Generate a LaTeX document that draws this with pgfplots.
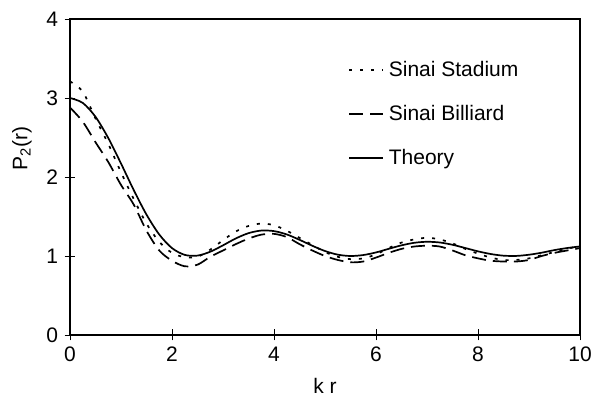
\documentclass[border=0pt]{standalone}
\usepackage{fontspec}
\setmainfont{Liberation Sans}
\usepackage{pgfplots}
\pgfplotsset{compat=1.18}
\begin{document}
\begin{tikzpicture}
\useasboundingbox (0,0) rectangle (595pt,409pt);
\begin{axis}[
 at={(70pt,74pt)}, anchor=south west,
 width=510pt, height=316pt, scale only axis,
 xmin=0,xmax=10,ymin=0,ymax=4,
 xtick={0,2,4,6,8,10}, ytick={0,1,2,3,4},
 tick pos=left,
 tick align=center, major tick length=11pt,
 tick style={line width=0.9pt, black},
 axis line style={line width=1.7pt},
 /pgf/number format/assume math mode=true,
 ticklabel style={font=\fontsize{21}{24}\selectfont},
 xticklabel style={yshift=-3pt},
 yticklabel style={xshift=-3pt},
 xlabel={k r}, ylabel={P\textsubscript{2}(r)},
 label style={font=\fontsize{21}{24}\selectfont},
 xlabel style={at={(axis description cs:0.5,-0.16)},anchor=center},
 ylabel style={at={(axis description cs:-0.094,0.59)},anchor=center},
 legend style={draw=none, fill=none, at={(axis description cs:0.545,0.873)}, anchor=north west,
   font=\fontsize{21}{24}\selectfont, row sep=23.5pt, inner sep=0pt},
 legend cell align=left,
 legend image code/.code={\draw[#1] (0pt,0pt) -- (34pt,0pt); \path (37pt,0pt);},
]
\addplot[black, line width=1.7pt, dash pattern=on 3pt off 8pt, smooth] coordinates {
(0,3.21) (0.25,3.08) (0.5,2.74) (0.75,2.42) (1.0,2.06) (1.25,1.72) (1.5,1.41) (1.75,1.18)
(2.0,1.04) (2.25,0.985) (2.5,0.99) (2.75,1.08) (3.0,1.20) (3.25,1.31) (3.5,1.38) (3.75,1.41)
(4.0,1.39) (4.25,1.32) (4.5,1.23) (4.75,1.14) (5.0,1.05) (5.25,0.99) (5.5,0.96) (5.75,0.97)
(6.0,1.02) (6.25,1.10) (6.5,1.17) (6.75,1.21) (7.0,1.23) (7.25,1.21) (7.5,1.16) (7.75,1.09)
(8.0,1.03) (8.25,0.98) (8.5,0.95) (8.75,0.95) (9.0,0.97) (9.25,1.01) (9.5,1.05) (9.75,1.09) (10,1.13)};
\addlegendentry{Sinai Stadium}
\addplot[black, line width=1.7pt, dash pattern=on 14pt off 7pt, smooth] coordinates {
(0,2.88) (0.25,2.70) (0.5,2.44) (0.75,2.19) (1.0,1.90) (1.25,1.65) (1.5,1.32) (1.75,1.07)
(2.0,0.94) (2.25,0.87) (2.5,0.89) (2.75,0.99) (3.0,1.07) (3.25,1.15) (3.5,1.22) (3.75,1.27)
(4.0,1.28) (4.25,1.24) (4.5,1.15) (4.75,1.07) (5.0,1.00) (5.25,0.95) (5.5,0.92) (5.75,0.93)
(6.0,0.98) (6.25,1.04) (6.5,1.09) (6.75,1.12) (7.0,1.13) (7.25,1.12) (7.5,1.07) (7.75,1.01)
(8.0,0.97) (8.25,0.94) (8.5,0.93) (8.75,0.93) (9.0,0.95) (9.25,1.00) (9.5,1.04) (9.75,1.07) (10,1.10)};
\addlegendentry{Sinai Billiard}
\addplot[black, line width=1.7pt, smooth] coordinates {
(0,3.000) (0.25,2.938) (0.5,2.762) (0.75,2.494) (1.0,2.171) (1.25,1.834) (1.5,1.524) (1.75,1.272)
(2.0,1.100) (2.25,1.014) (2.5,1.005) (2.75,1.054) (3.0,1.135) (3.25,1.222) (3.5,1.289) (3.75,1.322)
(4.0,1.315) (4.25,1.273) (4.5,1.205) (4.75,1.130) (5.0,1.063) (5.25,1.017) (5.5,1.000) (5.75,1.012)
(6.0,1.045) (6.25,1.091) (6.5,1.135) (6.75,1.167) (7.0,1.180) (7.25,1.171) (7.5,1.142) (7.75,1.101)
(8.0,1.059) (8.25,1.025) (8.5,1.004) (8.75,1.001) (9.0,1.016) (9.25,1.042) (9.5,1.075) (9.75,1.101) (10,1.121)};
\addlegendentry{Theory}
\end{axis}
\end{tikzpicture}
\end{document}
